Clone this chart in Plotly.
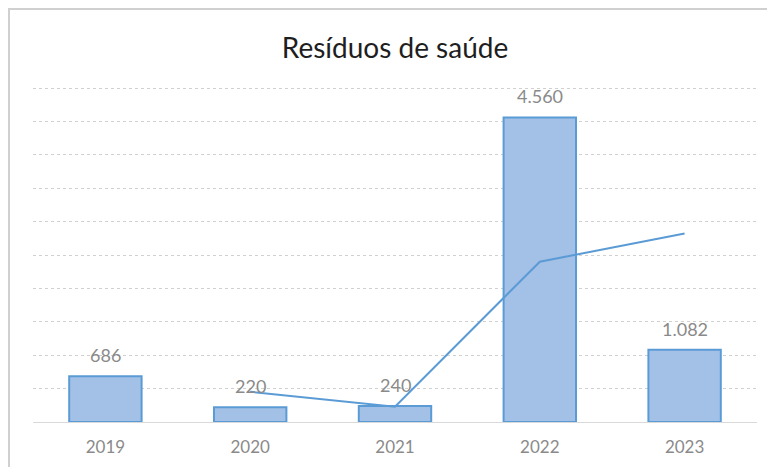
import plotly.graph_objects as go

years = ["2019", "2020", "2021", "2022", "2023"]
values = [686, 220, 240, 4560, 1082]
trend = [None, 453, 230, 2400, 2821]
title_text = "Resíduos de saúde"

FONT = "Lato, Open Sans, sans-serif"
BLUE = "#5b9bd5"
FILL = "#a3c1e7"
GRAY = "#8a8a8a"

# page has an 8px body margin: the figure is offset by (8, 8)
ML, MT, MR, MB = 25, 77, 26, 53
PH = 467 - MT - MB
YMAX = 5000 * PH / 334

fig = go.Figure()
fig.add_trace(go.Bar(
    x=years, y=values, width=0.5,
    marker=dict(color=FILL, line=dict(color=BLUE, width=2)),
    hoverinfo="skip", showlegend=False,
))
fig.add_trace(go.Scatter(
    x=years, y=trend, mode="lines",
    line=dict(color=BLUE, width=2),
    connectgaps=False, hoverinfo="skip", showlegend=False,
))

for i, v in enumerate(values):
    fig.add_annotation(
        x=i, y=v, text=f"{v:,}".replace(",", "."),
        showarrow=False, yshift=21, yanchor="middle",
        font=dict(family=FONT, size=18, color=GRAY),
    )

fig.add_shape(type="rect", xref="paper", yref="paper",
              x0=-(ML - 1) / (775 - ML - MR), x1=1.3,
              y0=-0.5, y1=(PH + MT - 1) / PH,
              line=dict(color="#d0d0d0", width=2), layer="below")

fig.update_layout(
    width=775, height=467,
    margin=dict(l=ML, r=MR, t=MT, b=MB),
    paper_bgcolor="white", plot_bgcolor="white",
    title=dict(text=title_text, x=0.5, xref="paper", xanchor="center",
               y=1 - 40 / 467, yanchor="middle",
               font=dict(family=FONT, size=28, color="#1e1e1e")),
    xaxis=dict(type="category", range=[-0.5, 4.5], showgrid=False, showline=True,
               linecolor="#d9d9d9", linewidth=1, ticklabelstandoff=10,
               ticks="", tickfont=dict(family=FONT, size=17, color=GRAY),
               fixedrange=True),
    yaxis=dict(range=[0, YMAX], tick0=0, dtick=500, showticklabels=False,
               showgrid=True, gridcolor="#d0d0d0", griddash="dot", gridwidth=1,
               zeroline=False, fixedrange=True),
    bargap=0.5,
)

fig.write_html("out.html")
